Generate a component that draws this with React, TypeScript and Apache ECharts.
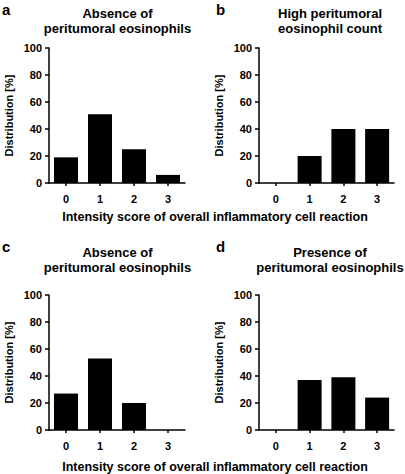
import React, { useEffect, useRef } from "react";
import * as echarts from "echarts";

const categories = ["0", "1", "2", "3"];
const valuesA = [19, 51, 25, 6];
const valuesB = [0, 20, 40, 40];
const valuesC = [27, 53, 20, 0];
const valuesD = [0, 37, 39, 24];
const yTicks = { min: 0, max: 100, interval: 20 };
const panelLetters = ["a", "b", "c", "d"];
const panelTitles = [
  ["Absence of", "peritumoral eosinophils"],
  ["High peritumoral", "eosinophil count"],
  ["Absence of", "peritumoral eosinophils"],
  ["Presence of", "peritumoral eosinophils"],
];
const yName = "Distribution [%]";
const xName = "Intensity score of overall inflammatory cell reaction";

const FONT = "Liberation Sans, Arial, sans-serif";

export default function App() {
  const ref = useRef<HTMLDivElement>(null);
  useEffect(() => {
    if (!ref.current) return;
    const chart = echarts.init(ref.current, undefined, { renderer: "svg" });
    const grids = [
      { left: 49, top: 48, width: 136, height: 135 },
      { left: 259, top: 48, width: 135, height: 135 },
      { left: 49, top: 295, width: 136, height: 135 },
      { left: 259, top: 295, width: 135, height: 135 },
    ];
    const data = [valuesA, valuesB, valuesC, valuesD];
    const axisLine = { show: true, lineStyle: { color: "#000", width: 1.5 } };
    const labelStyle = { color: "#000", fontWeight: "bold" as const, fontSize: 11, fontFamily: FONT };
    const titleCenters = [
      [117.5, 13.5, 28],
      [330, 13.5, 28],
      [117.5, 252, 267],
      [330, 252, 267],
    ];
    const letterPos = [
      [2, 2],
      [216, 2],
      [2, 239],
      [216, 239],
    ];
    const graphic: any[] = [];
    panelTitles.forEach((t, i) => {
      const [cx, y1, y2] = titleCenters[i];
      graphic.push({
        type: "text",
        x: cx,
        y: y1,
        style: { text: t[0], fill: "#000", font: `bold 13px ${FONT}`, textAlign: "center", textVerticalAlign: "middle" },
      });
      graphic.push({
        type: "text",
        x: cx,
        y: y2,
        style: { text: t[1], fill: "#000", font: `bold 13px ${FONT}`, textAlign: "center", textVerticalAlign: "middle" },
      });
      graphic.push({
        type: "text",
        x: letterPos[i][0],
        y: letterPos[i][1],
        style: { text: panelLetters[i], fill: "#000", font: `bold 15px ${FONT}`, textAlign: "left", textVerticalAlign: "top" },
      });
    });
    [217, 467].forEach((y) => {
      graphic.push({
        type: "text",
        x: 215,
        y,
        style: { text: xName, fill: "#000", font: `bold 12.5px ${FONT}`, textAlign: "center", textVerticalAlign: "middle" },
      });
    });

    chart.setOption({
      animation: false,
      backgroundColor: "#fff",
      grid: grids,
      xAxis: grids.map((_, i) => ({
        type: "category",
        gridIndex: i,
        data: categories,
        axisLine,
        axisTick: { show: true, alignWithLabel: true, length: 3, lineStyle: { color: "#000", width: 1.5 } },
        axisLabel: { ...labelStyle, margin: 10 },
        splitLine: { show: false },
      })),
      yAxis: grids.map((_, i) => ({
        type: "value",
        gridIndex: i,
        min: yTicks.min,
        max: yTicks.max,
        interval: yTicks.interval,
        axisLine,
        axisTick: { show: true, length: 4, lineStyle: { color: "#000", width: 1.5 } },
        axisLabel: { ...labelStyle, margin: 7 },
        splitLine: { show: false },
        name: yName,
        nameLocation: "middle",
        nameRotate: 90,
        nameGap: 35,
        nameTextStyle: { color: "#000", fontWeight: "bold", fontSize: 11, fontFamily: FONT },
      })),
      series: data.map((d, i) => ({
        type: "bar",
        xAxisIndex: i,
        yAxisIndex: i,
        data: d,
        barWidth: 24,
        itemStyle: { color: "#000" },
      })),
      graphic,
    });
    return () => chart.dispose();
  }, []);
  return (
    <div
      ref={ref}
      style={{ position: "fixed", left: 0, top: 0, width: 405, height: 474, background: "#fff" }}
    />
  );
}
